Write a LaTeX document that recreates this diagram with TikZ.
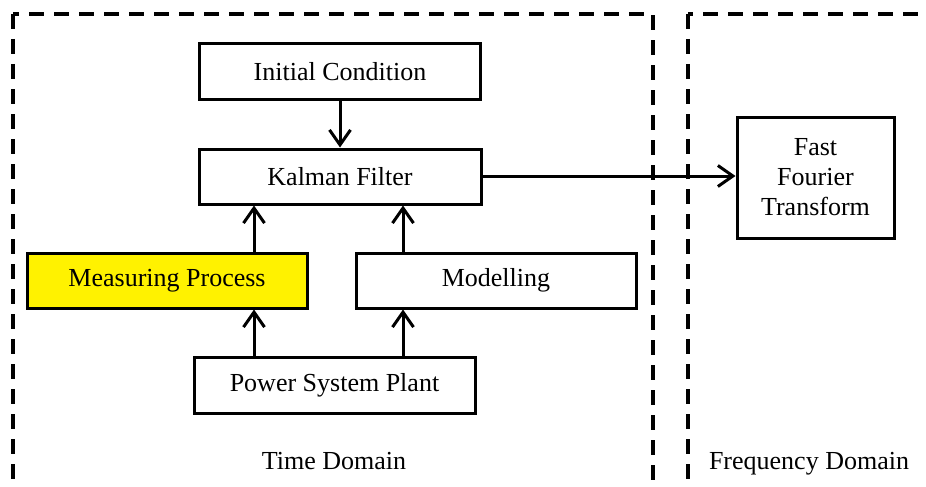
\documentclass[tikz,border=0pt]{standalone}
\usepackage{fontspec}
\setmainfont{Liberation Serif}
\usetikzlibrary{arrows.meta}
\begin{document}
\begin{tikzpicture}[x=1pt,y=-1pt,
  blk/.style={draw=black,line width=3pt,fill=white,inner sep=0pt,
    font=\fontsize{26}{30}\selectfont,align=center},
  dombox/.style={draw=black,line width=4pt,dash pattern=on 15pt off 10pt},
  flow/.style={line width=3pt,-{Straight Barb[length=15pt,width=21pt]}},
  lbl/.style={font=\fontsize{26}{30}\selectfont,inner sep=0pt,anchor=base}]
  \useasboundingbox (0,0) rectangle (926,487);
  \clip (0,0) rectangle (926,487);

  % domain frames (lower edges fall just outside the page)
  \draw[dombox] (13,14) rectangle (653,489.3);
  \draw[dombox] (688,14) rectangle (940,489.3);

  % blocks
  \node[blk,minimum width=281pt,minimum height=55pt] (init) at (340,71.5) {Initial Condition};
  \node[blk,minimum width=282pt,minimum height=55pt] (kf)   at (340,176.5) {Kalman Filter};
  \node[blk,minimum width=280pt,minimum height=55pt,fill=yellow] (meas) at (167,280.5) {Measuring Process};
  \node[blk,minimum width=280pt,minimum height=55pt] (model) at (496,280.5) {Modelling};
  \node[blk,minimum width=281pt,minimum height=56pt] (plant) at (334.5,385) {Power System Plant};
  \node[blk,minimum width=157pt,minimum height=121pt,text width=150pt] (fft) at (815.5,177.5) {Fast\\Fourier\\Transform};

  % domain labels
  \node[lbl] (td) at (334,469) {Time Domain};
  \node[lbl] (fd) at (809,469) {Frequency Domain};

  % connectors
  \draw[flow] (init) -- (kf);
  \draw[flow] (kf.east |- 0,176) -- (fft.west |- 0,176);
  \draw[flow] (meas.north -| 254,0) -- (kf.south -| 254,0);
  \draw[flow] (model.north -| 403,0) -- (kf.south -| 403,0);
  \draw[flow] (plant.north -| 254,0) -- (meas.south -| 254,0);
  \draw[flow] (plant.north -| 403,0) -- (model.south -| 403,0);
\end{tikzpicture}
\end{document}
